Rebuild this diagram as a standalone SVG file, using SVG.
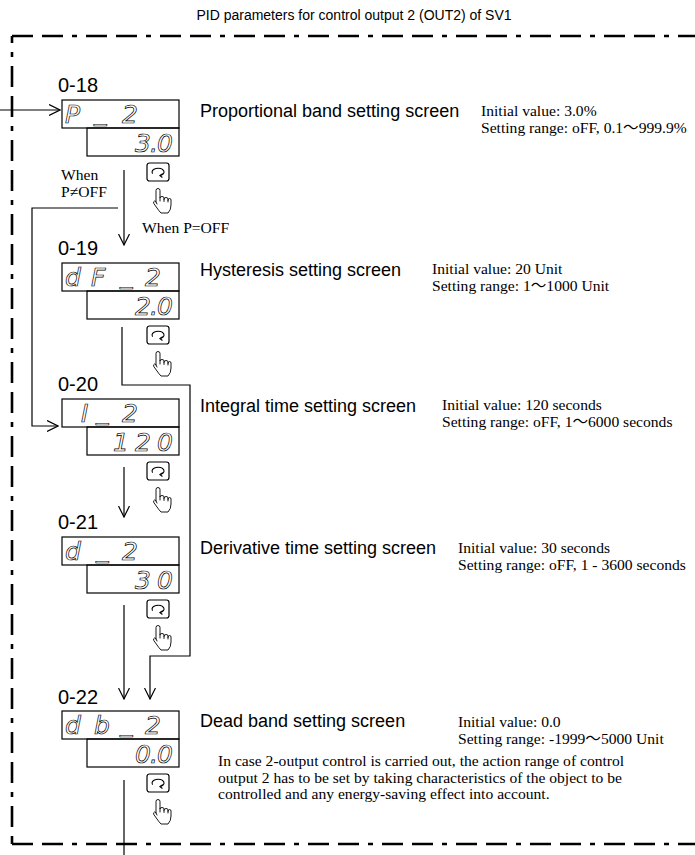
<svg xmlns="http://www.w3.org/2000/svg" width="695" height="855" viewBox="0 0 695 855">
<defs>
<style>
.title{font-family:"Liberation Sans",Arial,sans-serif;font-size:14px;fill:#000}
.lbl{font-family:"Liberation Sans",Arial,sans-serif;font-size:20px;fill:#000}
.name{font-family:"Liberation Sans",Arial,sans-serif;font-size:18px;fill:#000}
.note{font-family:"Liberation Serif","Noto Sans CJK JP",serif;font-size:15.6px;fill:#000}
.seg{font-family:"DejaVu Sans",sans-serif;font-style:oblique;font-size:25px;fill:none;stroke:#000;stroke-width:0.7}
.box{fill:none;stroke:#000;stroke-width:1.2}
.key{fill:#fff;stroke:#000;stroke-width:1.2}
.ico{fill:none;stroke:#000;stroke-width:1.1;stroke-linecap:round;stroke-linejoin:round}
.hand{fill:#fff;stroke:#000;stroke-width:0.9;stroke-linejoin:round;stroke-linecap:round}
.conn{fill:none;stroke:#000;stroke-width:1.2}
.frame{fill:none;stroke:#000;stroke-width:2.6;stroke-dasharray:21 9 21 9 5 9}
</style>
<marker id="arr" viewBox="0 0 12 12" refX="11.5" refY="6" markerWidth="12" markerHeight="12" markerUnits="userSpaceOnUse" orient="auto">
<path d="M0.5,0.5 L11.5,6 L0.5,11.5" fill="none" stroke="#000" stroke-width="1.2"/>
</marker>
<g id="kh">
<rect class="key" x="0" y="0" width="22" height="18" rx="2.5"/>
<path class="ico" d="M5.4,10.3 A6,3.8 0 1 1 13,12.6"/>
<path class="ico" d="M15.3,10.9 L13,12.6 L15.1,14.2"/>
<path class="hand" transform="translate(6,25)" d="M3,14 L3,2.5 Q3,0.5 5,0.5 Q7,0.5 7,2.5 L7,10 Q7,8.5 9,8.5 Q11,8.5 11,10 L11,11.5 Q11,9.5 13,9.5 Q15,9.5 15,11 L15,12.5 Q15,10.5 16.5,10.5 Q18,10.5 18,12 L18,17 Q18,22 15,25 L8,25 Q6,23 4,20 L0.8,15.5 Q0,13.5 1.5,13 Q2.5,12.7 3,14 L4,16 M7,10 L7,13 M11,11.5 L11,13.5 M15,12.5 L15,14"/>
</g>
</defs>

<rect x="0" y="0" width="695" height="855" fill="#fff"/>

<text class="title" x="354" y="20" text-anchor="middle">PID parameters for control output 2 (OUT2) of SV1</text>

<g id="frame">
<path class="frame" d="M12,36 H695"/>
<path class="frame" d="M12,36 V844" stroke-dashoffset="44"/>
<path class="frame" d="M12,844 H695"/>
</g>

<g id="connectors">
<path class="conn" d="M0,110 H60" marker-end="url(#arr)"/>
<path class="conn" d="M124,170 V245" marker-end="url(#arr)"/>
<path class="conn" d="M118,208 H32 V426 H58" marker-end="url(#arr)"/>
<path class="conn" d="M122,327 V385 H190 V656 H150 V699" marker-end="url(#arr)"/>
<path class="conn" d="M124,467 V517" marker-end="url(#arr)"/>
<path class="conn" d="M124,605 V699" marker-end="url(#arr)"/>
<path class="conn" d="M124,780 V855"/>
<text class="note" x="61" y="180">When</text>
<text class="note" x="61" y="197">P≠OFF</text>
<text class="note" x="142" y="233">When P=OFF</text>
</g>

<g id="node-0-18">
<text class="lbl" x="58" y="92">0-18</text>
<rect class="box" x="62" y="100" width="117" height="28"/>
<rect class="box" x="87" y="128" width="92" height="28"/>
<text class="seg" x="65 94 122" y="123 120 123">P_2</text>
<text class="seg" x="135 150 157" y="152">3.0</text>
<use href="#kh" x="147" y="163"/>
<text class="name" x="200" y="117">Proportional band setting screen</text>
<text class="note" x="481" y="116">Initial value: 3.0%</text>
<text class="note" x="481" y="133">Setting range: oFF, 0.1～999.9%</text>
</g>

<g id="node-0-19">
<text class="lbl" x="58" y="255">0-19</text>
<rect class="box" x="62" y="263" width="117" height="28"/>
<rect class="box" x="87" y="291" width="92" height="28"/>
<text class="seg" x="65 91 120 145" y="286 286 283 286">dF_2</text>
<text class="seg" x="135 150 157" y="315">2.0</text>
<use href="#kh" x="147" y="326"/>
<text class="name" x="200" y="276">Hysteresis setting screen</text>
<text class="note" x="432" y="274">Initial value: 20 Unit</text>
<text class="note" x="432" y="291">Setting range: 1～1000 Unit</text>
</g>

<g id="node-0-20">
<text class="lbl" x="58" y="391">0-20</text>
<rect class="box" x="62" y="399" width="117" height="28"/>
<rect class="box" x="87" y="427" width="92" height="28"/>
<text class="seg" x="81 96 122" y="422 419 422">I_2</text>
<text class="seg" x="113 135 157" y="451">120</text>
<use href="#kh" x="147" y="462"/>
<text class="name" x="200" y="412">Integral time setting screen</text>
<text class="note" x="442" y="410">Initial value: 120 seconds</text>
<text class="note" x="442" y="427">Setting range: oFF, 1～6000 seconds</text>
</g>

<g id="node-0-21">
<text class="lbl" x="58" y="529">0-21</text>
<rect class="box" x="62" y="537" width="117" height="28"/>
<rect class="box" x="87" y="565" width="92" height="28"/>
<text class="seg" x="65 96 122" y="560 557 560">d_2</text>
<text class="seg" x="135 157" y="589">30</text>
<use href="#kh" x="147" y="600"/>
<text class="name" x="200" y="554">Derivative time setting screen</text>
<text class="note" x="458" y="553">Initial value: 30 seconds</text>
<text class="note" x="458" y="570">Setting range: oFF, 1 - 3600 seconds</text>
</g>

<g id="node-0-22">
<text class="lbl" x="58" y="704">0-22</text>
<rect class="box" x="62" y="711" width="117" height="28"/>
<rect class="box" x="87" y="739" width="92" height="28"/>
<text class="seg" x="65 94 120 145" y="734 734 731 734">db_2</text>
<text class="seg" x="135 150 157" y="763">0.0</text>
<use href="#kh" x="147" y="774"/>
<text class="name" x="200" y="727">Dead band setting screen</text>
<text class="note" x="458" y="727">Initial value: 0.0</text>
<text class="note" x="458" y="744">Setting range: -1999～5000 Unit</text>
<text class="note" x="218" y="766">In case 2-output control is carried out, the action range of control</text>
<text class="note" x="218" y="783">output 2 has to be set by taking characteristics of the object to be</text>
<text class="note" x="218" y="799">controlled and any energy-saving effect into account.</text>
</g>
</svg>
